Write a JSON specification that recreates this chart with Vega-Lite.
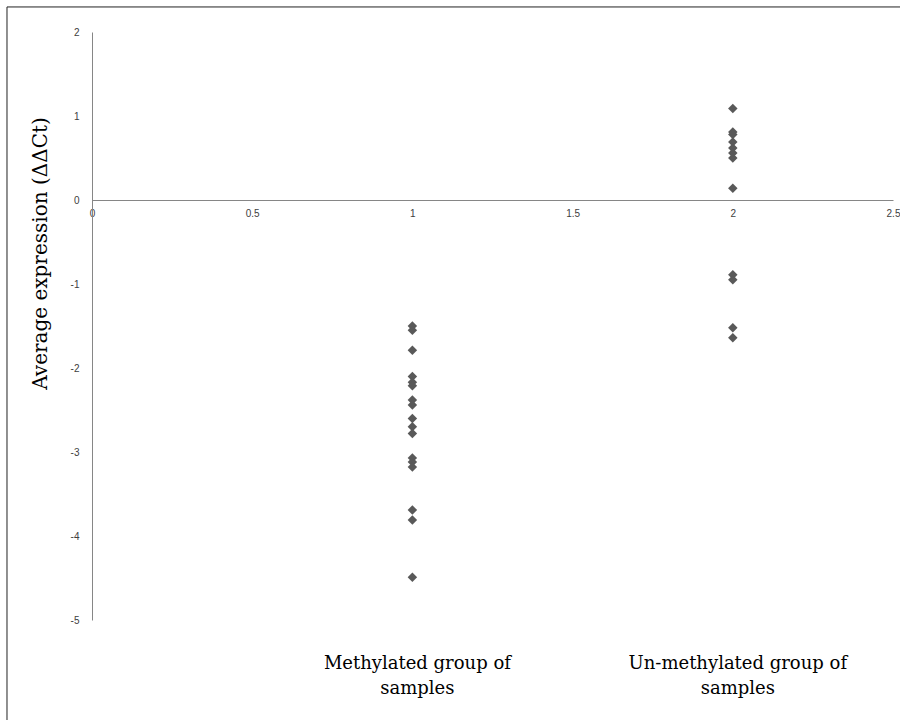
{
  "$schema": "https://vega.github.io/schema/vega-lite/v6.json",
  "width": 801,
  "height": 588,
  "autosize": {"type": "none"},
  "padding": {"left": 92, "top": 32, "right": 7, "bottom": 100},
  "background": "white",
  "config": {"view": {"stroke": null}},
  "layer": [
    {
      "data": {"values": [
        {"group": 1, "value": -1.50}, {"group": 1, "value": -1.55}, {"group": 1, "value": -1.79},
        {"group": 1, "value": -2.10}, {"group": 1, "value": -2.17}, {"group": 1, "value": -2.21},
        {"group": 1, "value": -2.38}, {"group": 1, "value": -2.44}, {"group": 1, "value": -2.60},
        {"group": 1, "value": -2.70}, {"group": 1, "value": -2.78}, {"group": 1, "value": -3.07},
        {"group": 1, "value": -3.12}, {"group": 1, "value": -3.18}, {"group": 1, "value": -3.69},
        {"group": 1, "value": -3.81}, {"group": 1, "value": -4.49},
        {"group": 2, "value": 1.09}, {"group": 2, "value": 0.81}, {"group": 2, "value": 0.78},
        {"group": 2, "value": 0.69}, {"group": 2, "value": 0.62}, {"group": 2, "value": 0.56},
        {"group": 2, "value": 0.50}, {"group": 2, "value": 0.14}, {"group": 2, "value": -0.89},
        {"group": 2, "value": -0.95}, {"group": 2, "value": -1.52}, {"group": 2, "value": -1.64}
      ]},
      "mark": {"type": "point", "shape": "diamond", "filled": true, "color": "#595959", "size": 90, "opacity": 1},
      "encoding": {
        "x": {"field": "group", "type": "quantitative",
          "scale": {"domain": [0, 2.5], "nice": false, "zero": false},
          "axis": {"orient": "bottom", "offset": -420, "values": [0, 0.5, 1, 1.5, 2, 2.5],
            "labelExpr": "toString(datum.value)",
            "tickSize": 0, "domainColor": "#868686", "grid": false, "title": null,
            "labelFont": "Liberation Sans", "labelFontSize": 10, "labelColor": "#404040", "labelPadding": 8, "labelFlush": false}},
        "y": {"field": "value", "type": "quantitative",
          "scale": {"domain": [-5, 2], "nice": false, "zero": false},
          "axis": {"values": [-5, -4, -3, -2, -1, 0, 1, 2], "labelExpr": "toString(datum.value)", "tickSize": 0, "domainColor": "#868686", "grid": false,
            "labelFont": "Liberation Sans", "labelFontSize": 10, "labelColor": "#404040", "labelPadding": 13,
            "title": "Average expression (ΔΔCt)", "titleFont": "DejaVu Serif", "titleFontSize": 20, "titleFontWeight": "normal",
            "titleColor": "#000000", "titleX": -52, "titleY": 221, "titleAngle": -90, "titleAlign": "center", "titleBaseline": "middle"}}
      }
    },
    {
      "data": {"values": [
        {"group": 1, "label": "Methylated group of\nsamples"},
        {"group": 2, "label": "Un-methylated group of\nsamples"}
      ]},
      "mark": {"type": "text", "lineBreak": "\n", "font": "DejaVu Serif", "fontSize": 18, "lineHeight": 25,
        "align": "center", "baseline": "top", "dx": 5, "color": "#000000"},
      "encoding": {
        "x": {"field": "group", "type": "quantitative"},
        "y": {"datum": -5.42, "type": "quantitative"},
        "text": {"field": "label", "type": "nominal"}
      }
    },
    {
      "data": {"values": [{}]},
      "mark": {"type": "rule", "color": "#222222", "strokeWidth": 1},
      "encoding": {
        "x": {"datum": -0.2653, "type": "quantitative"},
        "x2": {"datum": 2.53},
        "y": {"datum": 2.298, "type": "quantitative"}
      }
    },
    {
      "data": {"values": [{}]},
      "mark": {"type": "rule", "color": "#222222", "strokeWidth": 1},
      "encoding": {
        "x": {"datum": -0.2653, "type": "quantitative"},
        "y": {"datum": 2.298, "type": "quantitative"},
        "y2": {"datum": -6.3}
      }
    }
  ]
}
